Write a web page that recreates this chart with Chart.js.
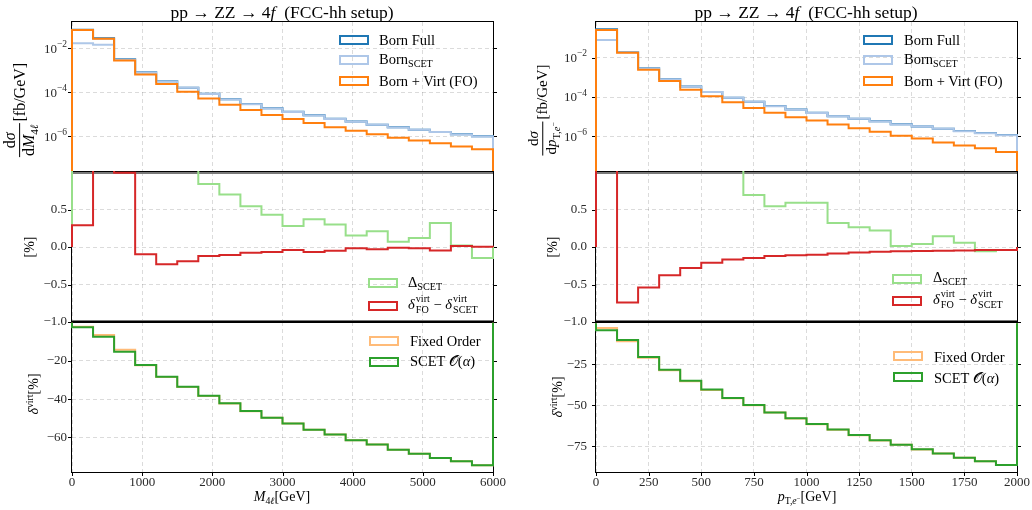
<!DOCTYPE html>
<html>
<head>
<meta charset="utf-8">
<script src="https://cdn.jsdelivr.net/npm/chart.js@4.4.1/dist/chart.umd.min.js"></script>
<style>
  body { margin: 0; background: #fff; width: 1032px; height: 510px; position: relative; overflow: hidden;
         font-family: "Liberation Serif", "Times New Roman", serif; color: #000; }
  canvas { position: absolute; }
  .lg { position: absolute; font-size: 14.5px; line-height: 0; white-space: nowrap; }
  .bx { position: absolute; width: 26px; height: 6px; border: 2px solid; }
  .lg sub, .tx sub { font-size: 0.7em; vertical-align: baseline; position: relative; top: 0.32em; line-height: 0; }
  .lg sup, .tx sup { font-size: 0.7em; vertical-align: baseline; position: relative; top: -0.45em; line-height: 0; }
  .ss { display: inline-grid; font-size: 0.7em; vertical-align: baseline; margin-left: 1px; }
  .ss > span { grid-area: 1 / 1; position: relative; }
  .ss .hi { top: -0.62em; }
  .ss .lo { top: 0.45em; }
  .tx { position: absolute; white-space: nowrap; line-height: 1.15; transform: translate(-50%, -50%); }
  .yl { position: absolute; display: flex; align-items: center; white-space: nowrap; font-size: 14px; line-height: 1.15;
        transform: translate(-50%, -50%) rotate(-90deg); }
  .frac { display: inline-flex; flex-direction: column; align-items: center; margin-right: 2px; }
  .frac .den { border-top: 1px solid #000; padding: 0 1px; }
  .yl sub { font-size: 0.7em; vertical-align: baseline; position: relative; top: 0.32em; }
  .yl sup { font-size: 0.7em; vertical-align: baseline; position: relative; top: -0.45em; }
</style>
</head>
<body>
<script>
// bin edges
const massEdges = [0, 300, 600, 900, 1200, 1500, 1800, 2100, 2400, 2700, 3000, 3300, 3600, 3900, 4200, 4500, 4800, 5100, 5400, 5700, 6000];
const ptEdges = [0, 100, 200, 300, 400, 500, 600, 700, 800, 900, 1000, 1100, 1200, 1300, 1400, 1500, 1600, 1700, 1800, 1900, 2000];

// tick positions
const massTicks = [0, 1000, 2000, 3000, 4000, 5000, 6000];
const ptTicks = [0, 250, 500, 750, 1000, 1250, 1500, 1750, 2000];
const logTicks = [1e-6, 1e-4, 1e-2];
const ratioTicks = [-1, -0.5, 0, 0.5];
const massVirtTicks = [-60, -40, -20];
const ptVirtTicks = [-75, -50, -25];

// dsigma/dM4l [fb/GeV]
const massBornFull = [7.0e-2, 2.85e-2, 3.2e-3, 8.1e-4, 3.2e-4, 1.63e-4, 8.7e-5, 4.8e-5, 2.95e-5, 1.87e-5, 1.3e-5, 9.0e-6, 6.3e-6, 4.7e-6, 3.4e-6, 2.57e-6, 2.0e-6, 1.58e-6, 1.23e-6, 1.0e-6];
const massBornScet = [1.7e-2, 1.47e-2, 3.0e-3, 7.9e-4, 3.1e-4, 1.6e-4, 8.5e-5, 4.7e-5, 2.9e-5, 1.84e-5, 1.28e-5, 8.8e-6, 6.2e-6, 4.6e-6, 3.35e-6, 2.53e-6, 1.97e-6, 1.56e-6, 1.21e-6, 0.98e-6];
const massBornVirt = [6.8e-2, 2.7e-2, 2.8e-3, 6.5e-4, 2.4e-4, 1.07e-4, 5.2e-5, 2.75e-5, 1.58e-5, 9.3e-6, 6.2e-6, 4.0e-6, 2.6e-6, 1.8e-6, 1.25e-6, 8.7e-7, 6.5e-7, 4.8e-7, 3.5e-7, 2.6e-7];

// dsigma/dpT [fb/GeV]
const ptBornFull = [0.28, 1.93e-2, 2.9e-3, 8.2e-4, 3.4e-4, 1.8e-4, 9.3e-5, 5.8e-5, 3.5e-5, 2.3e-5, 1.58e-5, 1.07e-5, 7.9e-6, 5.8e-6, 4.1e-6, 3.2e-6, 2.45e-6, 1.86e-6, 1.48e-6, 1.17e-6];
const ptBornScet = [7.9e-2, 1.86e-2, 2.85e-3, 8.1e-4, 3.35e-4, 1.78e-4, 9.2e-5, 5.7e-5, 3.45e-5, 2.27e-5, 1.56e-5, 1.06e-5, 7.8e-6, 5.7e-6, 4.05e-6, 3.15e-6, 2.42e-6, 1.84e-6, 1.46e-6, 1.15e-6];
const ptBornVirt = [0.255, 1.8e-2, 2.4e-3, 6.5e-4, 2.35e-4, 1.08e-4, 5.4e-5, 2.75e-5, 1.6e-5, 9.5e-6, 6.5e-6, 4.0e-6, 2.6e-6, 1.74e-6, 1.08e-6, 7.9e-7, 4.9e-7, 3.4e-7, 2.5e-7, 1.63e-7];

// differences [%]
const massDeltaScet = [76, 48, 6.3, 2.4, 1.5, 1.1, 0.84, 0.70, 0.545, 0.43, 0.28, 0.37, 0.30, 0.155, 0.21, 0.07, 0.12, 0.32, 0.02, -0.145];
const massDeltaVirt = [0.29, 1.4, 0.99, -0.095, -0.23, -0.19, -0.12, -0.105, -0.077, -0.068, -0.04, -0.068, -0.05, -0.018, -0.03, -0.01, -0.018, -0.045, 0.014, 0.005];
const ptDeltaScet = [72, 4.2, 3.0, 2.2, 1.6, 1.3, 1.1, 0.695, 0.543, 0.59, 0.59, 0.32, 0.265, 0.22, 0.013, 0.04, 0.143, 0.058, -0.058, -0.04];
const ptDeltaVirt = [1.42, -0.74, -0.54, -0.377, -0.28, -0.21, -0.166, -0.148, -0.12, -0.11, -0.103, -0.085, -0.072, -0.063, -0.058, -0.054, -0.05, -0.045, -0.04, -0.04];

// virtual corrections delta^virt [%]
const massVirtFO = [-2.07, -6.4, -14.1, -22.2, -28.4, -33.6, -38.3, -42.3, -46.3, -49.8, -52.8, -56.1, -58.6, -61.6, -63.8, -66.6, -68.6, -70.8, -72.6, -74.7];
const massVirtScet = [-2.36, -7.25, -15.1, -22.1, -28.2, -33.45, -38.2, -42.2, -46.2, -49.7, -52.8, -56.0, -58.6, -61.6, -63.8, -66.6, -68.6, -70.8, -72.6, -74.7];
const ptVirtFO = [-2.85, -10.95, -21.0, -28.6, -35.3, -40.6, -45.7, -49.9, -54.4, -58.0, -61.5, -64.9, -68.2, -71.4, -74.1, -76.9, -79.4, -82.0, -84.1, -86.4];
const ptVirtScet = [-4.27, -10.2, -20.5, -28.25, -35.0, -40.4, -45.5, -49.8, -54.3, -57.9, -61.4, -64.8, -68.1, -71.3, -74.0, -76.8, -79.3, -81.9, -84.1, -86.4];

const COLORS = {
  full: '#1f77b4', scet: '#aec7e8', virt: '#ff7f0e',
  dscet: '#98df8a', dvirt: '#d62728', fo: '#ffbb78', scetA: '#2ca02c'
};
const FONT = '"Liberation Serif", "Times New Roman", serif';
const TICK_COLOR = '#2a2a2a';
const GRID_COLOR = 'rgba(0,0,0,0.14)';

// column / row boxes of the plot areas
const COLS = [{x0: 0, l: 72, r: 493, pad: 5}, {x0: 520, l: 596, r: 1017, pad: 9}];
const ROWS = [[22, 172], [172, 322], [322, 472]];

// histogram outline, matplotlib "step" style (drops to base at both ends)
function stepPoints(edges, vals, base) {
  const pts = [{x: edges[0], y: base}];
  for (let i = 0; i < vals.length; i++) pts.push({x: edges[i], y: vals[i]});
  pts.push({x: edges[vals.length], y: vals[vals.length - 1]});
  pts.push({x: edges[vals.length], y: base});
  return pts;
}

function minus(s) { return String(s).replace('-', '\u2212'); }

// frame, outward tick marks, ±1 bands and 10^n labels
const framePlugin = {
  id: 'frame',
  beforeDatasetsDraw(chart, args, o) {
    const {ctx, chartArea: a} = chart;
    const ys = chart.scales.y, xs = chart.scales.x;
    ctx.save();
    if (o.bands) {
      ctx.strokeStyle = '#7a7a7a';
      ctx.lineWidth = 2;
      ctx.beginPath();
      ctx.moveTo(a.left, ys.getPixelForValue(1) + 1); ctx.lineTo(a.right, ys.getPixelForValue(1) + 1);
      ctx.moveTo(a.left, ys.getPixelForValue(-1) - 1); ctx.lineTo(a.right, ys.getPixelForValue(-1) - 1);
      ctx.stroke();
    }
    ctx.strokeStyle = '#000';
    ctx.lineWidth = 1;
    ctx.strokeRect(a.left - 0.5, a.top - 0.5, a.right - a.left + 1, a.bottom - a.top + 1);
    ctx.beginPath();
    ys.ticks.forEach(t => {
      const y = Math.round(ys.getPixelForValue(t.value)) + 0.5;
      ctx.moveTo(a.left - 4, y); ctx.lineTo(a.left, y);
      ctx.moveTo(a.right, y); ctx.lineTo(a.right + 4, y);
    });
    if (o.xTicks) {
      xs.ticks.forEach(t => {
        const x = Math.round(xs.getPixelForValue(t.value)) + 0.5;
        ctx.moveTo(x, a.bottom); ctx.lineTo(x, a.bottom + 4);
      });
    }
    ctx.stroke();
    if (o.logLabels) {
      ctx.fillStyle = TICK_COLOR;
      ctx.textBaseline = 'middle';
      ctx.textAlign = 'left';
      ys.ticks.forEach(t => {
        const y = ys.getPixelForValue(t.value);
        const exp = '\u2212' + Math.round(-Math.log10(t.value));
        ctx.font = '13px ' + FONT;
        const w10 = ctx.measureText('10').width;
        ctx.font = '9.5px ' + FONT;
        const we = ctx.measureText(exp).width;
        const xr = a.left - o.pad;
        ctx.fillText(exp, xr - we, y - 4);
        ctx.font = '13px ' + FONT;
        ctx.fillText('10', xr - we - w10, y + 1);
      });
    }
    ctx.restore();
  }
};

function panel(colIdx, rowIdx, cfg) {
  const col = COLS[colIdx];
  const [t, b] = ROWS[rowIdx];
  const padT = 10, extra = 40;
  const xH = cfg.xLabels ? 24 : 0;
  const canvas = document.createElement('canvas');
  const w = (col.r - col.x0) + 15;
  const h = (b - t) + extra;
  canvas.width = w; canvas.height = h;
  canvas.style.left = col.x0 + 'px';
  canvas.style.top = (t - padT) + 'px';
  document.body.appendChild(canvas);

  const zero = s => { s.paddingTop = 0; s.paddingBottom = 0; s.paddingLeft = 0; s.paddingRight = 0; };
  const base = cfg.yType === 'logarithmic' ? cfg.yMin / 10 : 0;

  new Chart(canvas.getContext('2d'), {
    type: 'line',
    data: {
      datasets: cfg.series.map(s => ({
        data: stepPoints(cfg.edges, s.vals, base),
        borderColor: s.color,
        borderWidth: 2,
        stepped: true,
        fill: false,
        pointRadius: 0,
        borderJoinStyle: 'miter',
        borderCapStyle: 'butt',
        clip: 1
      }))
    },
    options: {
      responsive: false,
      animation: false,
      events: [],
      layout: {padding: {left: 0, top: padT, right: 15, bottom: extra - padT - xH}},
      plugins: {
        legend: {display: false},
        tooltip: {enabled: false},
        frame: {bands: !!cfg.bands, xTicks: !!cfg.xLabels, logLabels: cfg.yType === 'logarithmic', pad: col.pad}
      },
      scales: {
        x: {
          type: 'linear',
          bounds: 'data',
          min: cfg.edges[0],
          max: cfg.edges[cfg.edges.length - 1],
          afterBuildTicks: s => { s.ticks = cfg.xTicks.map(v => ({value: v})); },
          ticks: {
            display: !!cfg.xLabels, autoSkip: false, maxRotation: 0, padding: 3,
            color: TICK_COLOR, font: {family: FONT, size: 13},
            callback: v => String(v)
          },
          grid: {color: GRID_COLOR, lineWidth: 1, drawTicks: false},
          border: {display: false, dash: [4, 3]},
          afterFit: s => { s.height = xH; zero(s); }
        },
        y: {
          type: cfg.yType,
          bounds: 'data',
          min: cfg.yMin,
          max: cfg.yMax,
          afterBuildTicks: s => { s.ticks = cfg.yTicks.map(v => ({value: v})); },
          ticks: {
            display: cfg.yType !== 'logarithmic', autoSkip: false, padding: col.pad,
            color: TICK_COLOR, font: {family: FONT, size: 13},
            callback: cfg.fmt
          },
          grid: {color: GRID_COLOR, lineWidth: 1, drawTicks: false},
          border: {display: false, dash: [4, 3]},
          afterFit: s => { s.width = col.l - col.x0; zero(s); }
        }
      }
    },
    plugins: [framePlugin]
  });
}

const fmtRatio = v => minus(v.toFixed(1));
const fmtInt = v => minus(v.toFixed(0));

// invariant mass column
panel(0, 0, {edges: massEdges, xTicks: massTicks, yType: 'logarithmic', yMin: 2.4e-8, yMax: 0.157, yTicks: logTicks,
  series: [{vals: massBornVirt, color: COLORS.virt}, {vals: massBornScet, color: COLORS.scet}, {vals: massBornFull, color: COLORS.full}]});
panel(0, 1, {edges: massEdges, xTicks: massTicks, yType: 'linear', yMin: -1, yMax: 1, yTicks: ratioTicks, fmt: fmtRatio, bands: true,
  series: [{vals: massDeltaVirt, color: COLORS.dvirt}, {vals: massDeltaScet, color: COLORS.dscet}]});
panel(0, 2, {edges: massEdges, xTicks: massTicks, yType: 'linear', yMin: -78.2, yMax: 0.44, yTicks: massVirtTicks, fmt: fmtInt, xLabels: true,
  series: [{vals: massVirtScet, color: COLORS.scetA}, {vals: massVirtFO, color: COLORS.fo}]});

// electron pT column
panel(1, 0, {edges: ptEdges, xTicks: ptTicks, yType: 'logarithmic', yMin: 1.55e-8, yMax: 0.65, yTicks: logTicks,
  series: [{vals: ptBornVirt, color: COLORS.virt}, {vals: ptBornScet, color: COLORS.scet}, {vals: ptBornFull, color: COLORS.full}]});
panel(1, 1, {edges: ptEdges, xTicks: ptTicks, yType: 'linear', yMin: -1, yMax: 1, yTicks: ratioTicks, fmt: fmtRatio, bands: true,
  series: [{vals: ptDeltaVirt, color: COLORS.dvirt}, {vals: ptDeltaScet, color: COLORS.dscet}]});
panel(1, 2, {edges: ptEdges, xTicks: ptTicks, yType: 'linear', yMin: -90.65, yMax: 0.8, yTicks: ptVirtTicks, fmt: fmtInt, xLabels: true,
  series: [{vals: ptVirtScet, color: COLORS.scetA}, {vals: ptVirtFO, color: COLORS.fo}]});
</script>

<!-- titles -->
<div class="tx" style="left:282px;top:12px;font-size:17.5px">pp → ZZ → 4<i>f</i>&nbsp; (FCC-hh setup)</div>
<div class="tx" style="left:806px;top:12px;font-size:17.5px">pp → ZZ → 4<i>f</i>&nbsp; (FCC-hh setup)</div>

<!-- axis titles -->
<div class="tx" style="left:282px;top:497px;font-size:14px"><i>M</i><sub>4<i>ℓ</i></sub>[GeV]</div>
<div class="tx" style="left:807px;top:497px;font-size:14px"><i>p</i><sub>T,<i>e</i><sup>−</sup></sub>[GeV]</div>

<div class="yl" style="left:20px;top:110px;font-size:16px"><span class="frac"><span>d<i>σ</i></span><span class="den">d<i>M</i><sub>4<i>ℓ</i></sub></span></span>[fb/GeV]</div>
<div class="yl" style="left:543px;top:110px;font-size:15px"><span class="frac"><span>d<i>σ</i></span><span class="den">d<i>p</i><sub>T,<i>e</i><sup>−</sup></sub></span></span>[fb/GeV]</div>
<div class="yl" style="left:30px;top:247px">[%]</div>
<div class="yl" style="left:553px;top:247px">[%]</div>
<div class="yl" style="left:34px;top:394px"><i>δ</i><sup>virt</sup>[%]</div>
<div class="yl" style="left:558px;top:397px"><i>δ</i><sup>virt</sup>[%]</div>

<!-- legends, top row -->
<div class="bx" style="left:339px;top:35px;border-color:#1f77b4"></div>
<div class="bx" style="left:339px;top:55px;border-color:#aec7e8"></div>
<div class="bx" style="left:339px;top:76px;border-color:#ff7f0e"></div>
<div class="lg" style="left:379px;top:40.3px">Born Full</div>
<div class="lg" style="left:379px;top:58.8px">Born<sub>SCET</sub></div>
<div class="lg" style="left:379px;top:80.8px">Born + Virt (FO)</div>

<div class="bx" style="left:863px;top:35px;border-color:#1f77b4"></div>
<div class="bx" style="left:863px;top:55px;border-color:#aec7e8"></div>
<div class="bx" style="left:863px;top:76px;border-color:#ff7f0e"></div>
<div class="lg" style="left:904px;top:40.3px">Born Full</div>
<div class="lg" style="left:904px;top:58.8px">Born<sub>SCET</sub></div>
<div class="lg" style="left:904px;top:80.8px">Born + Virt (FO)</div>

<!-- legends, middle row -->
<div class="bx" style="left:368px;top:278px;border-color:#98df8a"></div>
<div class="bx" style="left:368px;top:300.5px;border-color:#d62728"></div>
<div class="lg" style="left:408px;top:282px">Δ<sub>SCET</sub></div>
<div class="lg" style="left:408px;top:303.6px"><i>δ</i><span class="ss"><span class="hi">virt</span><span class="lo">FO</span></span> − <i>δ</i><span class="ss"><span class="hi">virt</span><span class="lo">SCET</span></span></div>

<div class="bx" style="left:892px;top:273.7px;border-color:#98df8a"></div>
<div class="bx" style="left:892px;top:296.2px;border-color:#d62728"></div>
<div class="lg" style="left:933px;top:277px">Δ<sub>SCET</sub></div>
<div class="lg" style="left:933px;top:298.6px"><i>δ</i><span class="ss"><span class="hi">virt</span><span class="lo">FO</span></span> − <i>δ</i><span class="ss"><span class="hi">virt</span><span class="lo">SCET</span></span></div>

<!-- legends, bottom row -->
<div class="bx" style="left:369px;top:336.2px;border-color:#ffbb78"></div>
<div class="bx" style="left:369px;top:356.7px;border-color:#2ca02c"></div>
<div class="lg" style="left:410px;top:341.1px">Fixed Order</div>
<div class="lg" style="left:410px;top:361.3px">SCET 𝒪(<i>α</i>)</div>

<div class="bx" style="left:893px;top:351.2px;border-color:#ffbb78"></div>
<div class="bx" style="left:893px;top:372.2px;border-color:#2ca02c"></div>
<div class="lg" style="left:934px;top:356.8px">Fixed Order</div>
<div class="lg" style="left:934px;top:377.8px">SCET 𝒪(<i>α</i>)</div>
</body>
</html>
